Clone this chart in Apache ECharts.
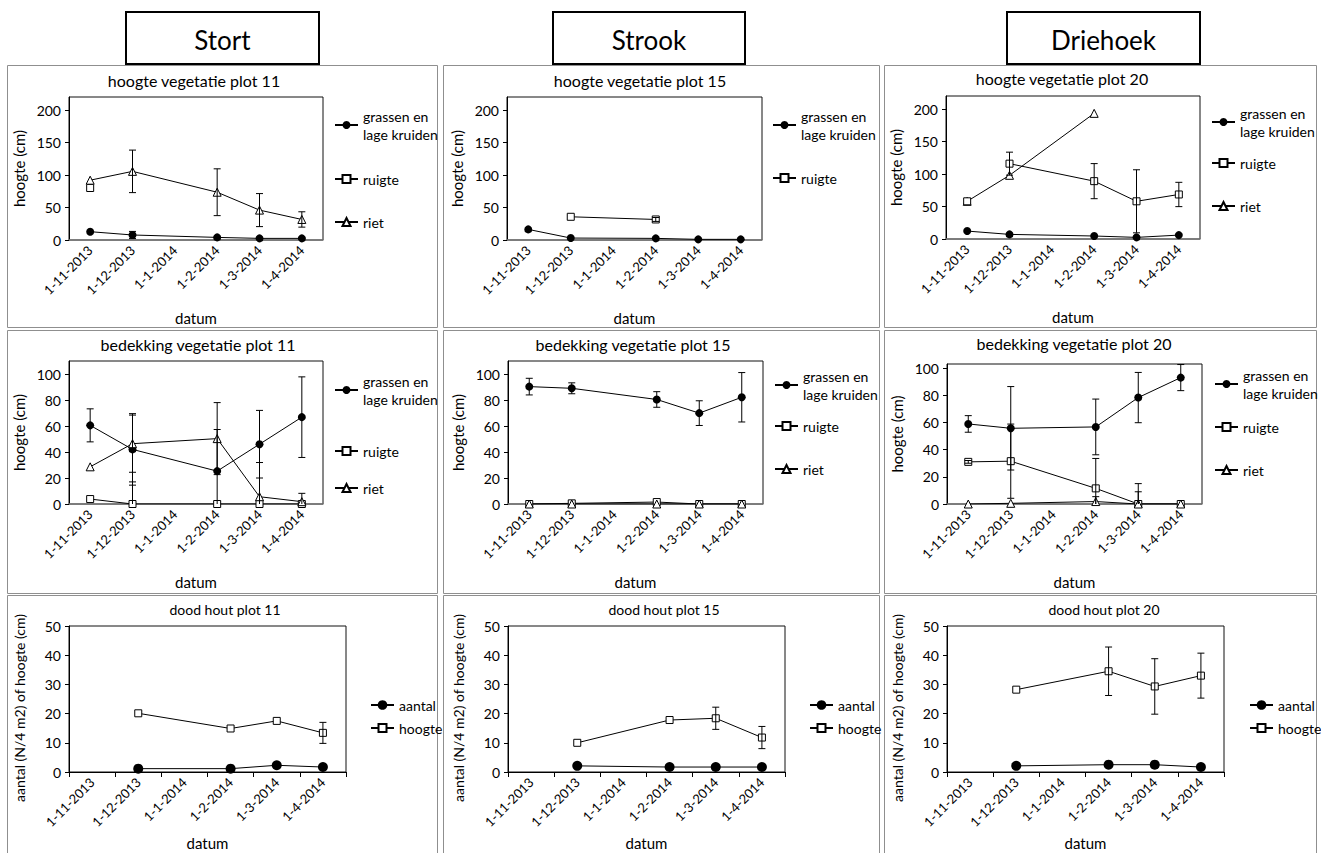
<!DOCTYPE html>
<html>
<head>
<meta charset="utf-8">
<script src="https://cdn.jsdelivr.net/npm/echarts@6/dist/echarts.min.js"></script>
<style>
html,body{margin:0;padding:0;background:#fff;}
#c{width:1321px;height:853px;}
</style>
</head>
<body>
<div id="c"></div>
<script>
// ---------- categories (month slots on the date axis) ----------
const categories = ['1-11-2013', '1-12-2013', '1-1-2014', '1-2-2014', '1-3-2014', '1-4-2014'];

// ---------- hoogte vegetatie ----------
const h11Gras      = [12.8, 7.7, null, 4.0, 2.5, 2.5];
const h11GrasErr   = [null, 5.5, null, 1.0, 1.0, 1.0];
const h11Ruigte    = [80, null, null, null, null, null];
const h11Riet      = [92, 105.6, null, 73.5, 46, 31.6];
const h11RietErr   = [null, 32.7, null, 36, 25.4, 11.8];

const h15Gras      = [16.3, 3.0, null, 2.5, 1.0, 1.0];
const h15Ruigte    = [null, 35.7, null, 31.6, null, null];
const h15RuigteErr = [null, null, null, 3, null, null];

const h20Gras      = [12.2, 7.1, null, 4.6, 2.5, 6.0];
const h20RuigteNov = [58, null, null, null, null, null];
const h20Ruigte    = [null, 115.9, null, 89, 58, 68.5];
const h20RuigteErr = [null, 17.7, null, 27, 48.5, 18.7];
const h20Riet      = [58, 98, null, 193.3, null, null];

// ---------- bedekking vegetatie ----------
const b11Gras      = [60.5, 42, null, 25.3, 46, 66.8];
const b11GrasErr   = [12.7, 27.5, null, 32, 26, 31];
const b11Ruigte    = [3.8, 0, null, 0, 0, 0];
const b11RuigteErr = [null, 17, null, null, null, null];
const b11Riet      = [28.6, 46.4, null, 50.3, 5.6, 1.8];
const b11RietErr   = [null, 22, null, 27.7, 26.3, 6.4];

const b15Gras      = [90.3, 89, null, 80.4, 69.9, 82.1];
const b15GrasErr   = [6.4, 4.2, null, 6, 9.5, 19];
const b15Ruigte    = [0, 0.5, null, 1.5, 0, 0];
const b15Riet      = [0, 0, null, 0, 0, 0];

const b20Gras      = [58.9, 55.7, null, 56.7, 78.3, 93];
const b20GrasErr   = [6.1, 30.7, null, 20.5, 18.5, 9.6];
const b20Ruigte    = [31, 31.5, null, 11.5, 0, 0];
const b20RuigteErr = [1, 27.3, null, 22, 15, null];
const b20Riet      = [0, 0.5, null, 1.8, 0, 0];
const b20RietErr   = [null, null, null, 3.6, 9, null];

// ---------- dood hout ----------
const d11Aantal    = [null, 1.15, null, 1.15, 2.3, 1.7];
const d11Hoogte    = [null, 20.1, null, 14.9, 17.5, 13.4];
const d11HoogteErr = [null, null, null, null, null, 3.6];
const d15Aantal    = [null, 2.1, null, 1.7, 1.7, 1.7];
const d15Hoogte    = [null, 10, null, 17.8, 18.4, 11.8];
const d15HoogteErr = [null, null, null, null, 3.8, 3.8];
const d20Aantal    = [null, 2.1, null, 2.5, 2.5, 1.7];
const d20Hoogte    = [null, 28.2, null, 34.5, 29.3, 33];
const d20HoogteErr = [null, null, null, 8.3, 9.5, 7.7];

// ---------- text ----------
const headers = ['Stort', 'Strook', 'Driehoek'];
const GRAS = 'grassen en lage kruiden';

// ---------- layout ----------
const headerBoxes = [[126, 12, 319, 64], [553, 12, 745, 64], [1007, 12, 1200, 64]];

const panels = [
  {row: 0, box: [7, 65, 437, 327], title: 'hoogte vegetatie plot 11', t: [194, 80], grid: [69, 97, 254, 143],
   ymax: 220, yint: 50, yname: 'hoogte (cm)',
   lines: [[GRAS, h11Gras, 'circle', h11GrasErr], ['ruigte', h11Ruigte, 'square', null], ['riet', h11Riet, 'triangle', h11RietErr]],
   legend: [[334, 125, GRAS], [334, 179, 'ruigte'], [334, 222, 'riet']]},
  {row: 0, box: [443, 65, 879, 327], title: 'hoogte vegetatie plot 15', t: [640, 80], grid: [507, 97, 255, 143],
   ymax: 220, yint: 50, yname: 'hoogte (cm)',
   lines: [[GRAS, h15Gras, 'circle', null], ['ruigte', h15Ruigte, 'square', h15RuigteErr]],
   legend: [[772, 125, GRAS], [772, 178, 'ruigte']]},
  {row: 0, box: [884, 65, 1316, 327], title: 'hoogte vegetatie plot 20', t: [1062, 78], grid: [946, 96, 254, 143],
   ymax: 220, yint: 50, yname: 'hoogte (cm)',
   lines: [[GRAS, h20Gras, 'circle', null], ['riet', h20Riet, 'triangle', null], ['ruigte', h20Ruigte, 'square', h20RuigteErr], ['ruigte', h20RuigteNov, 'square', null]],
   legend: [[1211, 122, GRAS], [1211, 163, 'ruigte'], [1211, 206, 'riet']]},

  {row: 1, box: [7, 330, 437, 593], title: 'bedekking vegetatie plot 11', t: [198, 344], grid: [69, 361, 254, 143],
   ymax: 110, yint: 20, yname: 'hoogte (cm)',
   lines: [[GRAS, b11Gras, 'circle', b11GrasErr], ['ruigte', b11Ruigte, 'square', b11RuigteErr], ['riet', b11Riet, 'triangle', b11RietErr]],
   legend: [[334, 390, GRAS], [334, 451, 'ruigte'], [334, 488, 'riet']]},
  {row: 1, box: [443, 330, 879, 593], title: 'bedekking vegetatie plot 15', t: [633, 344], grid: [508, 361, 255, 143],
   ymax: 110, yint: 20, yname: 'hoogte (cm)',
   lines: [[GRAS, b15Gras, 'circle', b15GrasErr], ['ruigte', b15Ruigte, 'square', null], ['riet', b15Riet, 'triangle', null]],
   legend: [[774, 385, GRAS], [774, 426, 'ruigte'], [774, 469, 'riet']]},
  {row: 1, box: [884, 330, 1316, 593], title: 'bedekking vegetatie plot 20', t: [1074, 343], grid: [947, 364, 255, 140],
   ymax: 103, yint: 20, yname: 'hoogte (cm)',
   lines: [[GRAS, b20Gras, 'circle', b20GrasErr], ['ruigte', b20Ruigte, 'square', b20RuigteErr], ['riet', b20Riet, 'triangle', b20RietErr]],
   legend: [[1214, 384, GRAS], [1214, 427, 'ruigte'], [1214, 470, 'riet']]},

  {row: 2, box: [7, 595, 437, 870], title: 'dood hout plot 11', t: [225, 609], grid: [69, 626, 277, 146],
   ymax: 50, yint: 10, yname: 'aantal (N/4 m2) of hoogte (cm)',
   lines: [['aantal', d11Aantal, 'bigcircle', null], ['hoogte', d11Hoogte, 'square', d11HoogteErr]],
   legend: [[370, 705, 'aantal'], [370, 728, 'hoogte']]},
  {row: 2, box: [443, 595, 879, 870], title: 'dood hout plot 15', t: [664, 609], grid: [508, 626, 277, 146],
   ymax: 50, yint: 10, yname: 'aantal (N/4 m2) of hoogte (cm)',
   lines: [['aantal', d15Aantal, 'bigcircle', null], ['hoogte', d15Hoogte, 'square', d15HoogteErr]],
   legend: [[809, 705, 'aantal'], [809, 728, 'hoogte']]},
  {row: 2, box: [884, 595, 1316, 870], title: 'dood hout plot 20', t: [1104, 609], grid: [947, 626, 277, 146],
   ymax: 50, yint: 10, yname: 'aantal (N/4 m2) of hoogte (cm)',
   lines: [['aantal', d20Aantal, 'bigcircle', null], ['hoogte', d20Hoogte, 'square', d20HoogteErr]],
   legend: [[1249, 705, 'aantal'], [1249, 728, 'hoogte']]}
];

function lineSeries(gi, name, data, kind) {
  const s = {
    type: 'line', name: name, data: data, xAxisIndex: gi, yAxisIndex: gi,
    connectNulls: true, showSymbol: true, showAllSymbol: true, animation: false,
    lineStyle: {color: '#000', width: 1}, z: 3, emphasis: {disabled: true}
  };
  if (kind === 'circle' || kind === 'bigcircle') {
    s.symbol = 'circle';
    s.symbolSize = kind === 'bigcircle' ? 10 : 8;
    s.itemStyle = {color: '#000', borderColor: '#000', borderWidth: 0};
  } else {
    s.symbol = kind === 'square' ? 'rect' : 'triangle';
    s.symbolSize = kind === 'square' ? 7 : 8;
    s.itemStyle = {color: '#fff', borderColor: '#000', borderWidth: 1};
  }
  return s;
}

function errorSeries(gi, values, errs) {
  const data = [];
  values.forEach(function (v, i) {
    if (v != null && errs[i] != null) data.push([i, v, errs[i]]);
  });
  return {
    type: 'custom', name: 'fout', xAxisIndex: gi, yAxisIndex: gi, clip: true, silent: true, z: 6,
    encode: {x: 0, y: 1}, data: data,
    renderItem: function (params, api) {
      const i = api.value(0), v = api.value(1), e = api.value(2);
      const a = api.coord([i, v + e]);
      const b = api.coord([i, v - e]);
      const hw = 3.5;
      const st = {stroke: '#000', lineWidth: 1};
      return {
        type: 'group', children: [
          {type: 'line', shape: {x1: a[0], y1: a[1], x2: b[0], y2: b[1]}, style: st},
          {type: 'line', shape: {x1: a[0] - hw, y1: a[1], x2: a[0] + hw, y2: a[1]}, style: st},
          {type: 'line', shape: {x1: b[0] - hw, y1: b[1], x2: b[0] + hw, y2: b[1]}, style: st}
        ]
      };
    }
  };
}

const option = {
  animation: false,
  textStyle: {fontFamily: 'Lato', color: '#000'},
  grid: [], xAxis: [], yAxis: [], series: [], legend: [], graphic: []
};

// panel frames first
panels.forEach(function (p) {
  option.graphic.push({
    type: 'rect', silent: true, z: 0,
    shape: {x: p.box[0] + 0.5, y: p.box[1] + 0.5, width: p.box[2] - p.box[0], height: p.box[3] - p.box[1]},
    style: {fill: 'none', stroke: '#8f8f8f', lineWidth: 1}
  });
});

panels.forEach(function (p, gi) {
  const row3 = p.row === 2;
  option.grid.push({
    left: p.grid[0], top: p.grid[1], width: p.grid[2], height: p.grid[3],
    show: true, borderColor: '#111', borderWidth: 1, backgroundColor: 'transparent',
    containLabel: false, outerBoundsMode: 'none'
  });
  option.xAxis.push({
    type: 'category', gridIndex: gi, data: categories, boundaryGap: true,
    name: 'datum', nameLocation: 'middle', nameGap: row3 ? 63 : 70,
    nameTextStyle: {fontSize: 15, color: '#000'},
    axisLine: {show: true, onZero: false, lineStyle: {color: row3 ? '#000' : '#7a7a7a', width: row3 ? 1 : 1.5}},
    axisTick: {show: row3, length: 5, interval: 0, lineStyle: {color: '#000'}},
    axisLabel: {interval: 0, rotate: 45, fontSize: 13, color: '#000', margin: 8},
    splitLine: {show: false}
  });
  option.yAxis.push({
    type: 'value', gridIndex: gi, min: 0, max: p.ymax, interval: p.yint,
    name: p.yname, nameLocation: 'middle', nameGap: 43,
    nameTextStyle: {fontSize: row3 ? 14 : 15, color: '#000', padding: row3 ? [0, 18, 0, 0] : 0},
    axisLine: {show: true, lineStyle: {color: '#000', width: 1}},
    axisTick: {show: true, length: 4, lineStyle: {color: '#000'}},
    axisLabel: {fontSize: 14, color: '#000', margin: 8, showMaxLabel: p.ymax % p.yint === 0},
    splitLine: {show: false}
  });
  p.lines.forEach(function (l) {
    option.series.push(lineSeries(gi, l[0], l[1], l[2]));
  });
  p.lines.forEach(function (l) {
    if (l[3]) option.series.push(errorSeries(gi, l[1], l[3]));
  });
  p.legend.forEach(function (lg) {
    const two = lg[2] === GRAS;
    option.legend.push({
      show: true, orient: 'vertical', left: lg[0], top: two ? lg[1] - 27 : lg[1] - 9,
      padding: 0, itemGap: 0, itemWidth: 23, itemHeight: lg[2] === 'aantal' ? 12 : 10,
      selectedMode: false, data: [lg[2]],
      formatter: function (n) { return n === GRAS ? 'grassen en\nlage kruiden' : n; },
      textStyle: {fontSize: 14, color: '#000', lineHeight: 18, padding: two ? [18, 0, 0, 0] : 0}
    });
  });
  option.graphic.push({
    type: 'text', silent: true, z: 10, x: p.t[0], y: p.t[1],
    style: {text: p.title, fill: '#000', font: (row3 ? 14 : 16) + 'px Lato', textAlign: 'center', textVerticalAlign: 'middle'}
  });
});

// header boxes
headers.forEach(function (h, i) {
  const b = headerBoxes[i];
  option.graphic.push({
    type: 'rect', silent: true, z: 20,
    shape: {x: b[0], y: b[1], width: b[2] - b[0], height: b[3] - b[1]},
    style: {fill: '#fff', stroke: '#000', lineWidth: 2}
  });
  option.graphic.push({
    type: 'text', silent: true, z: 21, x: (b[0] + b[2]) / 2, y: 40,
    style: {text: h, fill: '#000', font: '26px Lato', textAlign: 'center', textVerticalAlign: 'middle'}
  });
});

const chart = echarts.init(document.getElementById('c'), null, {renderer: 'svg'});
chart.setOption(option);
</script>
</body>
</html>
